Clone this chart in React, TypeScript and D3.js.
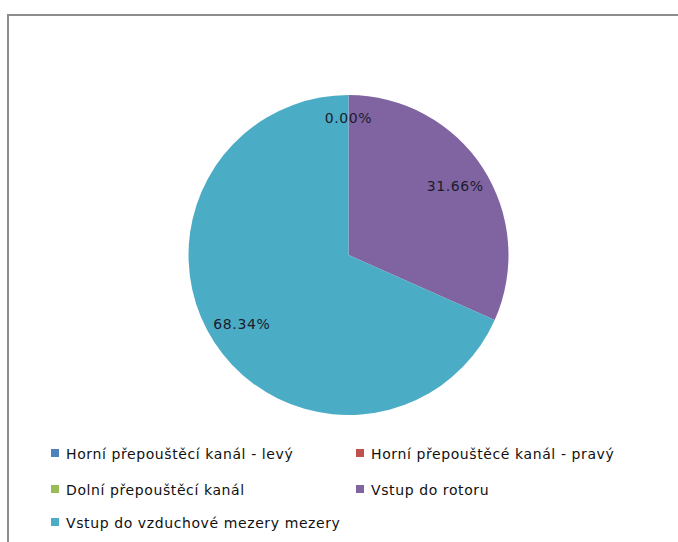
import React from "react";
import * as d3 from "d3";

const categories = [
  "Horní přepouštěcí kanál - levý",
  "Horní přepouštěcé kanál - pravý",
  "Dolní přepouštěcí kanál",
  "Vstup do rotoru",
  "Vstup do vzduchové mezery mezery",
];
const values = [0, 0, 0, 31.66, 68.34];
const colors = ["#4F81BD", "#C0504D", "#9BBB59", "#8064A2", "#4BACC6"];

const W = 678;
const H = 542;
const cx = 348.5;
const cy = 255;
const R = 160;

export default function App() {
  const total = d3.sum(values);
  const pie = d3.pie<number>().sort(null).value((d) => d)(values);
  const arc = d3.arc<d3.PieArcDatum<number>>().innerRadius(0).outerRadius(R);

  const seen = new Set<string>();
  const labels = pie
    .map((p, i) => {
      const mid = (p.startAngle + p.endAngle) / 2;
      const rl = p.value === 0 ? R * 0.855 : R * 0.795;
      const x = cx + rl * Math.sin(mid);
      const y = cy - rl * Math.cos(mid);
      const text = ((p.value / total) * 100).toFixed(2) + "%";
      const key = text + Math.round(x) + "," + Math.round(y);
      if (seen.has(key)) return null;
      seen.add(key);
      return { x, y, text, i };
    })
    .filter(Boolean) as { x: number; y: number; text: string; i: number }[];

  const legendCols = [51, 356];
  const legendRows = [453, 489, 522];

  return (
    <svg
      width={W}
      height={H}
      style={{ position: "fixed", left: 0, top: 0, background: "#fff" }}
      fontFamily="'DejaVu Sans', Verdana, sans-serif"
    >
      <rect x={0} y={0} width={W} height={H} fill="#fff" />
      <rect x={8} y={15} width={W + 20} height={H + 20} fill="#fff" stroke="#8c8c8c" strokeWidth={2} />
      <g transform={`translate(${cx},${cy})`}>
        {pie.map((p, i) => (
          <path key={i} d={arc(p) || ""} fill={colors[i]} />
        ))}
      </g>
      {labels.map((l) => (
        <text
          key={l.i}
          x={l.x}
          y={l.y}
          textAnchor="middle"
          dominantBaseline="central"
          fontSize={14}
          letterSpacing={0.6}
          fill="#1b1b2a"
        >
          {l.text}
        </text>
      ))}
      {categories.map((c, i) => {
        const col = i % 2;
        const row = Math.floor(i / 2);
        const x = legendCols[col];
        const y = legendRows[row];
        return (
          <g key={c}>
            <rect x={x} y={y - 4} width={8} height={8} fill={colors[i]} />
            <text
              x={x + 15}
              y={y + 1}
              dominantBaseline="central"
              fontSize={14}
              letterSpacing={0.6}
              fill="#111"
            >
              {c}
            </text>
          </g>
        );
      })}
    </svg>
  );
}
